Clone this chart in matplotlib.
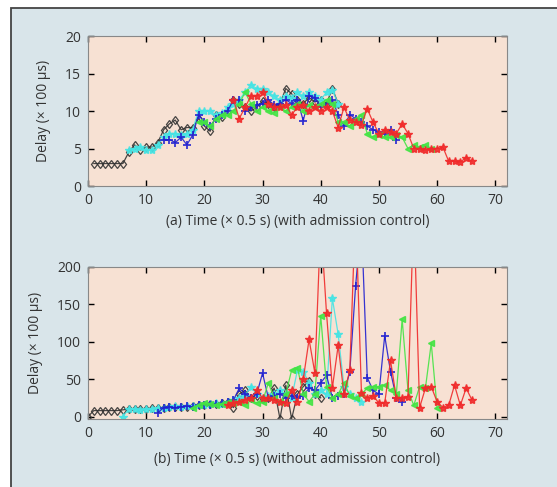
import numpy as np
import matplotlib.pyplot as plt
from matplotlib.patches import Rectangle

plt.rcParams['font.family'] = ['Open Sans', 'DejaVu Sans']

# (a) with admission control
a_black_x = np.arange(1, 44)
a_black = [3.0, 3.0, 3.0, 3.0, 3.0, 3.0, 4.5, 5.5, 4.8, 5.2, 5.2, 5.8, 7.5, 8.3,
           8.8, 7.5, 7.8, 7.8, 9.0, 8.0, 7.3, 9.5, 9.2, 10.0, 11.5, 11.0, 10.5,
           10.0, 10.5, 11.3, 11.0, 10.5, 11.0, 13.0, 12.3, 11.5, 11.0, 11.8,
           11.2, 11.5, 11.0, 13.0, 11.0]
a_cyan_x = np.arange(7, 44)
a_cyan = [4.8, 5.0, 5.2, 4.8, 4.8, 5.5, 6.5, 7.0, 7.0, 6.8, 7.0, 7.5, 10.0, 10.0,
          10.0, 9.5, 9.8, 10.5, 11.0, 11.5, 12.5, 13.5, 13.0, 13.0, 12.5, 12.0,
          11.5, 12.0, 11.8, 12.5, 12.0, 12.5, 12.0, 11.5, 12.5, 12.8, 11.0]
a_blue_x = np.arange(13, 54)
a_blue = [6.2, 6.2, 5.8, 6.5, 5.5, 6.8, 9.5, 8.5, 8.0, 9.0, 9.5, 10.0, 11.5, 11.5,
          10.0, 10.5, 10.8, 11.0, 11.5, 10.8, 11.0, 11.5, 11.0, 11.5, 8.7, 12.0,
          11.8, 10.5, 11.0, 11.5, 9.5, 8.0, 9.5, 9.0, 8.5, 8.0, 7.5, 7.2, 7.0,
          7.5, 6.2]
a_green_x = np.arange(19, 60)
a_green = [8.5, 8.5, 8.0, 9.0, 9.5, 9.5, 10.0, 11.0, 12.5, 11.0, 10.0, 10.5, 10.0,
           9.8, 10.5, 10.0, 10.5, 11.0, 10.0, 10.8, 10.5, 11.0, 11.5, 11.0, 8.5,
           8.5, 8.0, 9.0, 9.5, 7.0, 6.5, 6.8, 6.5, 6.5, 6.8, 6.5, 5.0, 5.5, 5.2,
           5.5, 5.0]
a_red_x = np.arange(25, 67)
a_red = [11.5, 9.0, 10.5, 12.0, 12.0, 12.5, 11.0, 10.5, 10.5, 10.8, 9.5, 10.5,
         10.8, 10.0, 10.5, 10.0, 10.5, 10.0, 7.8, 10.5, 8.8, 8.5, 8.2, 10.3, 8.5,
         7.0, 7.5, 7.2, 7.0, 8.3, 7.0, 5.0, 5.0, 4.8, 5.0, 5.0, 5.2, 3.3, 3.3,
         3.2, 3.8, 3.3]

# (b) without admission control
b_black_x = np.arange(0, 41)
b_black = [0, 8, 8, 8, 8, 8, 9, 10, 10, 10, 10, 11, 11, 12, 13, 13, 13, 13, 14, 15,
           16, 17, 17, 18, 20, 12, 30, 35, 25, 28, 24, 25, 38, -3, 42, -3, 30, 40,
           48, 30, 25]
b_cyan_x = np.arange(6, 48)
b_cyan = [0, 10, 10, 9, 10, 10, 12, 12, 13, 14, 13, 14, 14, 15, 16, 17, 18, 17, 20,
          22, 25, 28, 40, 30, 25, 28, 30, 35, 30, 25, 62, 60, 45, 30, 35, 30, 158,
          110, 40, 30, 25, 20]
b_blue_x = np.arange(12, 55)
b_blue = [5, 12, 13, 12, 13, 14, 13, 15, 16, 16, 17, 18, 20, 22, 38, 30, 25, 30, 58,
          25, 28, 30, 25, 28, 25, 28, 38, 35, 45, 55, 25, 28, 30, 60, 175, 260, 52,
          35, 30, 108, 60, 25, 20]
b_green_x = np.arange(18, 61)
b_green = [12, 15, 18, 17, 16, 17, 20, 18, 20, 15, 22, 18, 20, 45, 25, 20, 30, 62,
           65, 30, 20, 30, 135, 40, 25, 30, 45, 28, 25, 30, 38, 40, 40, 42, 35, 30,
           130, 35, 15, 40, 38, 98, 12]
b_red_x = np.arange(24, 67)
b_red = [15, 18, 20, 22, 25, 35, 25, 25, 22, 20, 18, 35, 20, 50, 103, 58, 260, 138,
         38, 95, 30, 62, 280, 32, 25, 28, 18, 18, 75, 25, 25, 26, 280, 12, 38, 40,
         20, 12, 15, 42, 15, 38, 22]

styles = [
    dict(color='#333333', marker='d', mfc='none', mec='#333333', ms=4.5, mew=0.9),
    dict(color='#45e4e4', marker='*', ms=6),
    dict(color='#2020d0', marker='+', ms=6, mew=1.3),
    dict(color='#44e444', marker='<', ms=4.5),
    dict(color='#f02a2a', marker='*', ms=6),
]

fig = plt.figure(figsize=(5.57, 4.87), dpi=100, facecolor='white')
fig.patches.append(Rectangle((11 / 557, -0.1), 1.2, 1.1 - 8 / 487,
                             transform=fig.transFigure, facecolor='#d9e5ea',
                             edgecolor='#444444', lw=1.3, zorder=-10))

ax1 = fig.add_axes([0.158, 0.618, 0.752, 0.308])
ax2 = fig.add_axes([0.158, 0.140, 0.752, 0.312])

series_a = [(a_black_x, a_black), (a_cyan_x, a_cyan), (a_blue_x, a_blue),
            (a_green_x, a_green), (a_red_x, a_red)]
series_b = [(b_black_x, b_black), (b_cyan_x, b_cyan), (b_blue_x, b_blue),
            (b_green_x, b_green), (b_red_x, b_red)]

for ax, series in [(ax1, series_a), (ax2, series_b)]:
    ax.set_facecolor('#f7e1d3')
    for (x, y), st in zip(series, styles):
        ax.plot(x, y, lw=0.9, alpha=0.9, **st)
    ax.set_xlim(0, 72)
    ax.set_xticks(range(0, 71, 10))
    ax.tick_params(direction='in', top=True, right=True, length=4, width=1,
                   labelsize=10, labelcolor='#333333', pad=5)
    for s in ax.spines.values():
        s.set_color('#888888')
    ax.set_ylabel('Delay (\u00d7 100 \u00b5s)', fontsize=10, color='#333333',
                  labelpad=10)

ax1.set_ylim(0, 20)
ax1.set_yticks(range(0, 21, 5))
ax1.set_xlabel('(a) Time (\u00d7 0.5 s) (with admission control)', fontsize=10,
               color='#333333', labelpad=4)
ax2.set_ylim(-3, 200)
ax2.set_yticks(range(0, 201, 50))
ax2.set_xlabel('(b) Time (\u00d7 0.5 s) (without admission control)', fontsize=10,
               color='#333333', labelpad=8)

fig.savefig('out.png', dpi=100, facecolor=fig.get_facecolor())
